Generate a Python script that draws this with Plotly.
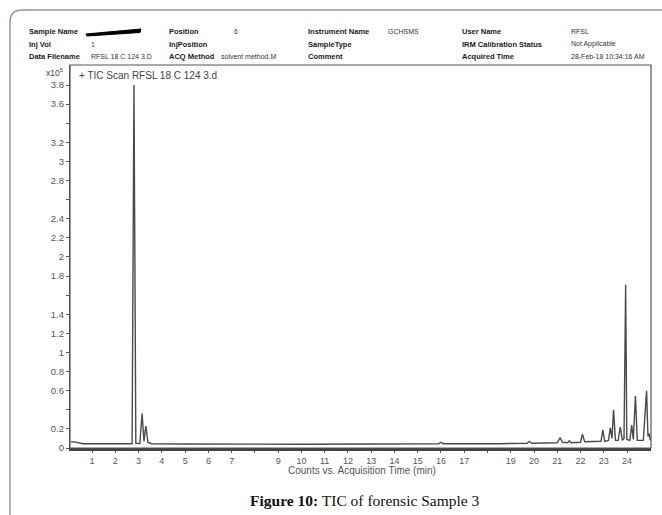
import plotly.graph_objects as go

# ---------------- data ----------------
time_min = [0.10, 0.30, 0.60, 1.50, 2.60, 2.72, 2.80, 2.88, 3.05, 3.15, 3.23, 3.31, 3.40, 3.55,
            5.0, 7.0, 10.0, 13.0, 15.9, 16.0, 16.1, 18.5, 19.7, 19.8, 19.9, 21.0, 21.12, 21.22,
            21.45, 21.52, 21.60, 22.0, 22.08, 22.18, 22.6, 22.88, 22.96, 23.04, 23.2, 23.28,
            23.35, 23.42, 23.5, 23.62, 23.71, 23.8, 23.87, 23.91, 23.925, 23.94, 23.99, 24.12,
            24.2, 24.27, 24.36, 24.44, 24.7, 24.84, 24.9, 24.95, 25.0]
counts_e5 = [0.065, 0.062, 0.045, 0.042, 0.040, 0.045, 3.80, 0.05, 0.045, 0.36, 0.07, 0.23, 0.06, 0.045,
             0.042, 0.040, 0.040, 0.042, 0.045, 0.06, 0.045, 0.045, 0.05, 0.07, 0.05, 0.055, 0.11, 0.06,
             0.055, 0.075, 0.055, 0.06, 0.145, 0.065, 0.065, 0.07, 0.19, 0.07, 0.08, 0.21,
             0.10, 0.40, 0.08, 0.08, 0.22, 0.08, 0.10, 1.06, 1.00, 1.71, 0.09, 0.08,
             0.24, 0.09, 0.545, 0.08, 0.08, 0.60, 0.12, 0.15, 0.08]

x_all_ticks = list(range(1, 25))
x_label_ticks = [v for v in x_all_ticks if v not in (8, 18)]
x_ticktext = [str(v) for v in x_label_ticks]
y_all_ticks = [round(0.2 * i, 1) for i in range(0, 20)]
y_label_ticks = [v for v in y_all_ticks if v not in (0.4, 1.6, 2.6, 3.4)]
y_ticktext = ["0" if v == 0 else "%g" % v for v in y_label_ticks]

header_rows = [
    [("Sample Name", ""), ("Position", "6"), ("Instrument Name", "GCHSMS"), ("User Name", "RFSL")],
    [("Inj Vol", "1"), ("InjPosition", ""), ("SampleType", ""), ("IRM Calibration Status", "Not Applicable")],
    [("Data Filename", "RFSL 18 C 124 3.D"), ("ACQ Method", "solvent method.M"), ("Comment", ""),
     ("Acquired Time", "28-Feb-18 10:34:16 AM")],
]

# ---------------- layout geometry (pixels) ----------------
W, H = 662, 515
L, R, T, B = 70, 651, 65, 448
PW, PH = R - L, B - T


def px(x):
    return (x - L) / PW


def py(y):
    return (B - y) / PH


fig = go.Figure()
fig.add_trace(go.Scatter(x=time_min, y=counts_e5, mode="lines",
                         line=dict(color="#4a4a4a", width=1.4), hoverinfo="skip",
                         showlegend=False))

ann = []
label_x = [27, 167, 306, 460]
value_x = [89, 219, 386, 569]
row_y = [32, 44, 56]
for r, row in enumerate(header_rows):
    for c, (lab, val) in enumerate(row):
        ann.append(dict(x=px(label_x[c]), y=py(row_y[r]), xref="paper", yref="paper",
                        text="<b>" + lab + "</b>", showarrow=False, xanchor="left", yanchor="middle",
                        font=dict(family="Liberation Sans", size=7.5, color="#1a1a1a")))
        if val:
            vx = value_x[c]
            if r == 0 and c == 1:
                vx = 232
            ann.append(dict(x=px(vx), y=py(row_y[r]), xref="paper", yref="paper",
                            text=val, showarrow=False, xanchor="left", yanchor="middle",
                            font=dict(family="Liberation Sans", size=7, color="#333")))

ann.append(dict(x=px(77), y=py(75), xref="paper", yref="paper", text="+ TIC Scan RFSL 18 C 124 3.d",
                showarrow=False, xanchor="left", yanchor="middle",
                font=dict(family="Liberation Sans", size=10, color="#444")))
ann.append(dict(x=px(66), y=py(72), xref="paper", yref="paper", text="x10<sup>5</sup>",
                showarrow=False, xanchor="right", yanchor="middle",
                font=dict(family="Liberation Sans", size=8.5, color="#444")))
ann.append(dict(x=px(362), y=py(470), xref="paper", yref="paper",
                text="Counts vs. Acquisition Time (min)", showarrow=False,
                xanchor="center", yanchor="middle",
                font=dict(family="Liberation Sans", size=10, color="#555")))
ann.append(dict(x=px(365), y=py(500), xref="paper", yref="paper",
                text="<b>Figure 10:</b> TIC of forensic Sample 3", showarrow=False,
                xanchor="center", yanchor="middle",
                font=dict(family="Liberation Serif", size=15.5, color="#111")))

shapes = [
    # outer rounded figure border
    dict(type="path", xref="paper", yref="paper",
         path="M %f,%f L %f,%f Q %f,%f %f,%f L %f,%f" % (
             px(10), py(520), px(10), py(22), px(10), py(10), px(22), py(10), px(670), py(10)),
         line=dict(color="#8e8ec4", width=1.5)),
    # plot frame
    dict(type="rect", xref="paper", yref="paper", x0=0, x1=1, y0=0, y1=1,
         line=dict(color="#555", width=1.2)),
    # redacted sample name
    dict(type="path", xref="paper", yref="paper",
         path="M %f,%f L %f,%f L %f,%f L %f,%f Z" % (
             px(86), py(34), px(141), py(29), px(140), py(32.5), px(87), py(36)),
         fillcolor="#000", line=dict(color="#000", width=1)),
]

fig.update_layout(
    width=W, height=H,
    margin=dict(l=L, r=W - R, t=T, b=H - B),
    paper_bgcolor="white", plot_bgcolor="white",
    annotations=ann, shapes=shapes,
    xaxis=dict(range=[0.05, 25.03], tickvals=x_label_ticks, ticktext=x_ticktext,
               ticks="outside", ticklen=2, tickcolor="#555", showgrid=False, zeroline=False,
               showline=True, linecolor="#444", linewidth=2.5,
               minor=dict(tickvals=x_all_ticks, ticks="outside", ticklen=2, tickcolor="#555"),
               tickfont=dict(family="Liberation Sans", size=9, color="#555")),
    yaxis=dict(range=[0, 4.01], tickvals=y_label_ticks, ticktext=y_ticktext,
               ticks="outside", ticklen=3, tickcolor="#555", showgrid=False, zeroline=False,
               showline=True, linecolor="#555", linewidth=1.2,
               minor=dict(tickvals=y_all_ticks, ticks="outside", ticklen=3, tickcolor="#555"),
               tickfont=dict(family="Liberation Sans", size=9.5, color="#555")),
)

fig.write_html("out.html")
